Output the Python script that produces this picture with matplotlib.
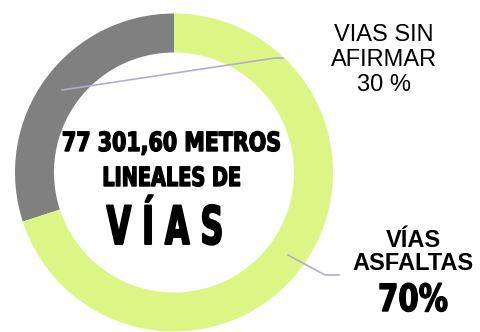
import matplotlib
matplotlib.use("Agg")
import matplotlib.pyplot as plt
from matplotlib.patheffects import AbstractPathEffect
from matplotlib.transforms import Affine2D

# longitud de vías por tipo de superficie
categorias = ["VIAS SIN\nAFIRMAR", "VÍAS\nASFALTAS"]
porcentajes = [30, 70]
colores = ["#808080", "#dcf686"]
total_texto = "77 301,60 METROS"


class Estrecho(AbstractPathEffect):
    """Comprime el texto en horizontal (letra condensada) y lo engruesa."""

    def __init__(self, sx, x0, grosor=0.8):
        super().__init__()
        self.sx, self.x0, self.grosor = sx, x0, grosor

    def draw_path(self, renderer, gc, tpath, affine, rgbFace=None):
        t = affine + Affine2D().translate(-self.x0, 0).scale(self.sx, 1).translate(self.x0, 0)
        gc0 = renderer.new_gc()
        gc0.copy_properties(gc)
        gc0.set_linewidth(self.grosor)
        gc0.set_foreground(rgbFace if rgbFace is not None else "k")
        renderer.draw_path(gc0, tpath, t, rgbFace)
        gc0.restore()


W, H = 480, 332
fig = plt.figure(figsize=(W / 100, H / 100), dpi=100)
ax = fig.add_axes([0, 0, 1, 1])

cx, cy, r = 174, H - 172.5, 159
ax.pie(porcentajes, colors=colores, startangle=90, counterclock=True,
       radius=r, center=(cx, cy), wedgeprops=dict(width=39, linewidth=0))
ax.set_xlim(0, W)
ax.set_ylim(0, H)
ax.set_aspect("equal")
ax.axis("off")

linea = "#b3adc9"

# líneas guía
ax.plot([62, 275, 283], [H - 90, H - 58, H - 58], color=linea, lw=1.2)
ax.plot([288, 325, 339], [H - 255, H - 275, H - 275], color=linea, lw=1.2)

ax.text(384, H - 60, f"{categorias[0]}\n{porcentajes[0]} %", ha="center", va="center",
        fontsize=17, family="Liberation Sans", linespacing=1.17)
ax.text(413, H - 252, categorias[1], ha="center", va="center",
        fontsize=17, family="Liberation Sans", weight="bold", linespacing=1.05)
ax.text(413, H - 301, f"{porcentajes[1]}%", ha="center", va="center",
        fontsize=27, family="DejaVu Sans", weight="bold",
        path_effects=[Estrecho(0.78, 413, 1.0)])

# texto central
ax.text(171.5, H - 144, total_texto, ha="center", va="center",
        fontsize=19, family="DejaVu Sans", weight="bold",
        path_effects=[Estrecho(0.78, 171.5, 1.0)])
ax.text(171.5, H - 179, "LINEALES DE", ha="center", va="center",
        fontsize=19, family="DejaVu Sans", weight="bold",
        path_effects=[Estrecho(0.73, 171.5, 1.0)])
ax.text(165, H - 229, "V Í A S", ha="center", va="center",
        fontsize=38, family="DejaVu Sans", weight="bold",
        path_effects=[Estrecho(0.6, 165, 1.4)])

fig.savefig("out.png", dpi=100)
